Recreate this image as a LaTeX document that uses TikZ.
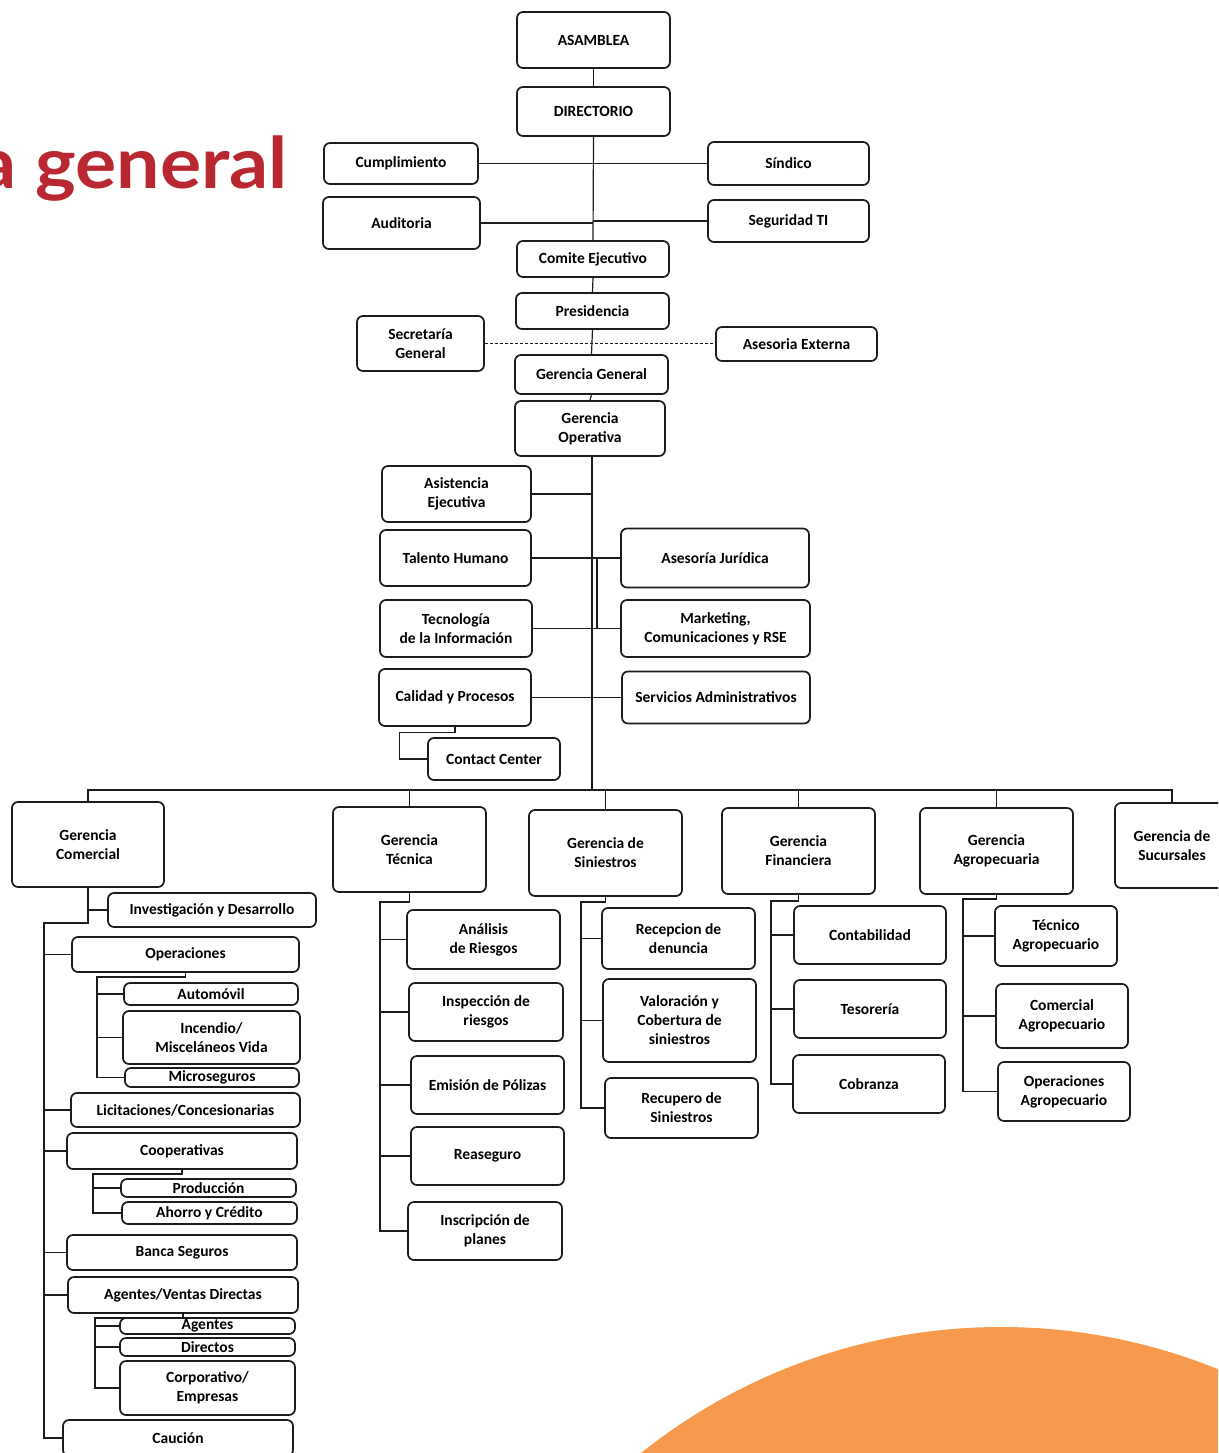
\documentclass[tikz,border=0pt]{standalone}
\usepackage{fontspec}
\setmainfont{Carlito}
\newfontfamily\titlefont{Lato}
\definecolor{ink}{RGB}{28,28,28}
\definecolor{rojo}{RGB}{185,40,48}
\definecolor{naranja}{RGB}{247,154,78}
\newcommand{\boxfont}{\bfseries\fontsize{15.5}{19}\selectfont}
\tikzset{
  box/.style 2 args={draw=ink, line width=1.7pt, rounded corners=6pt, fill=white,
    minimum width=#1pt, minimum height=#2pt, align=center, font=\boxfont, inner sep=0.5pt},
  link/.style={draw=ink, line width=1.2pt},
}

\begin{document}
\begin{tikzpicture}[x=1pt, y=-1pt]
\useasboundingbox (0,0) rectangle (1218,1453);
\clip (0,0) rectangle (1218,1453);
\fill[naranja] (1001,1904) circle[radius=577pt];
\node[anchor=base east, text=rojo, font=\titlefont\bfseries\fontsize{71}{80}\selectfont, inner sep=0pt] (titulo) at (288,188) {\scalebox{1.086}[1]{a general}};

% top of the chart
\node[box={153}{56}] (asamblea) at (593.5,40) {ASAMBLEA};
\node[box={153}{49}] (directorio) at (593.5,111.5) {DIRECTORIO};
\node[box={154}{41}] (cumpl) at (401,163.5) {Cumplimiento};
\node[box={161}{43}] (sindico) at (788.5,163.5) {Síndico};
\node[box={157}{52}] (auditoria) at (401.5,223) {Auditoria};
\node[box={161}{42}] (segti) at (788.5,221) {Seguridad TI};
\node[box={152}{36}] (comite) at (593,259) {Comite Ejecutivo};
\node[box={153}{36}] (presid) at (592.5,311) {Presidencia};
\node[box={127}{55}] (secret) at (420.5,343.5) {Secretaría\\General};
\node[box={161}{34}] (asext) at (796.5,344) {Asesoria Externa};
\node[box={153}{39}] (gergen) at (591.5,374.5) {Gerencia General};
\node[box={150}{55}] (gerop) at (590,428.5) {Gerencia\\Operativa};

% staff of Gerencia Operativa
\node[box={149}{56}] (asist) at (456.5,494) {Asistencia\\Ejecutiva};
\node[box={151}{56}] (talento) at (455.5,558) {Talento Humano};
\node[box={188}{59}] (asjur) at (715,558) {Asesoría Jurídica};
\node[box={152}{57}] (tecno) at (456,628.5) {Tecnología\\de la Información};
\node[box={189}{57}] (mkt) at (715.5,628.5) {Marketing,\\Comunicaciones y RSE};
\node[box={152}{57}] (calidad) at (455,697.5) {Calidad y Procesos};
\node[box={188}{52}] (servadm) at (716,697.5) {Servicios Administrativos};
\node[box={132}{42}] (contact) at (494,759) {Contact Center};

% gerencias
\node[box={152}{85}] (gcom) at (88,844.5) {Gerencia\\Comercial};
\node[box={153}{85}] (gtec) at (409.5,849.5) {Gerencia\\Técnica};
\node[box={153}{86}] (gsin) at (605.5,853) {Gerencia de\\Siniestros};
\node[box={153}{86}] (gfin) at (798.5,851) {Gerencia\\Financiera};
\node[box={153}{86}] (gagro) at (996.5,851) {Gerencia\\Agropecuaria};
\node[box={114}{85}] (gsuc) at (1172,845.5) {Gerencia de\\Sucursales};

% Gerencia Tecnica
\node[box={153}{59}] (anal) at (483.5,939.5) {Análisis\\de Riesgos};
\node[box={154}{58}] (insp) at (486,1012) {Inspección de\\riesgos};
\node[box={153}{58}] (emis) at (487.5,1085) {Emisión de Pólizas};
\node[box={153}{58}] (reas) at (487.5,1156) {Reaseguro};
\node[box={154}{58}] (inscr) at (485,1231) {Inscripción de\\planes};

% Gerencia de Siniestros
\node[box={153}{61}] (recep) at (678.5,938.5) {Recepcion de\\denuncia};
\node[box={153}{83}] (valor) at (679.5,1020.5) {Valoración y\\Cobertura de\\siniestros};
\node[box={153}{60}] (recup) at (681.5,1108) {Recupero de\\Siniestros};

% Gerencia Financiera
\node[box={152}{58}] (conta) at (870,935) {Contabilidad};
\node[box={152}{58}] (teso) at (870,1009) {Tesorería};
\node[box={152}{58}] (cobr) at (869,1084) {Cobranza};

% Gerencia Agropecuaria
\node[box={122}{60}] (tecag) at (1056,936) {Técnico\\Agropecuario};
\node[box={132}{64}] (comag) at (1062,1016) {Comercial\\Agropecuario};
\node[box={132}{59}] (opag) at (1064,1091.5) {Operaciones\\Agropecuario};

% Gerencia Comercial
\node[box={208}{34}] (invest) at (212,910) {Investigación y Desarrollo};
\node[box={227}{35}] (oper) at (185.5,954.5) {Operaciones};
\node[box={174}{22}] (auto) at (211,994) {Automóvil};
\node[box={177}{53}] (incen) at (211.5,1037.5) {Incendio/\\Misceláneos Vida};
\node[box={174}{19}] (micro) at (212,1077.5) {Microseguros};
\node[box={229}{34}] (licit) at (185.5,1110) {Licitaciones/Concesionarias};
\node[box={230}{36}] (coop) at (182,1151) {Cooperativas};
\node[box={175}{18}] (prod) at (208.5,1188) {Producción};
\node[box={175}{22}] (ahorro) at (209.5,1213) {Ahorro y Crédito};
\node[box={230}{35}] (banca) at (182,1252.5) {Banca Seguros};
\node[box={230}{36}] (agvd) at (183,1295) {Agentes/Ventas Directas};
\node[box={175}{16}] (agentes) at (207.5,1326) {Agentes};
\node[box={175}{18}] (directos) at (207.5,1347) {Directos};
\node[box={175}{54}] (corpo) at (207.5,1388) {Corporativo/\\Empresas};
\node[box={230}{36}] (caucion) at (178,1438) {Caución};

% connectors
\coordinate (spine) at (593,0);
\coordinate (ospine) at (592,0);
\coordinate (rspine) at (597,0);
\coordinate (bus) at (0,790);
\draw[link] (asamblea.south) -- (directorio.north);
\draw[link] (directorio.south) -- (comite.north);
\draw[link] (comite.south) -- (presid.north);
\draw[link] (presid.south) -- (gergen.north);
\draw[link] (gergen.south) -- (gerop.north);
\foreach \n in {cumpl,auditoria} \draw[link] (\n.east) -- (\n.east -| spine);
\foreach \n in {sindico,segti} \draw[link] (\n.west) -- (\n.west -| spine);
\draw[link, line width=1pt, dash pattern=on 3pt off 2pt] (secret.east) -- (secret.east -| asext.west);

\draw[link] (gerop.south -| ospine) -- (ospine |- bus);
\draw[link] (asist.east) -- (asist.east -| ospine);
\draw[link] (talento.east) -- (talento.east -| asjur.west);
\draw[link] (tecno.east) -- (tecno.east -| mkt.west);
\draw[link] (calidad.east) -- (calidad.east -| servadm.west);
\draw[link] (talento.east -| rspine) -- (tecno.east -| rspine);
\draw[link] (calidad.south) -- ++(0,6) -| ([xshift=-28pt]contact.west) -- (contact.west);

\draw[link] (gcom.north) -- (gcom.north |- bus) -- (gsuc.north |- bus) -- (gsuc.north);
\foreach \n in {gtec,gsin,gfin,gagro} \draw[link] (\n.north) -- (\n.north |- bus);

\coordinate (tcol) at (380,902);
\draw[link] (gtec.south) |- (tcol) -- (tcol |- inscr.west) -- (inscr.west);
\foreach \n in {anal,insp,emis,reas} \draw[link] (\n.west) -- (\n.west -| tcol);
\coordinate (scol) at (581,902);
\draw[link] (gsin.south) |- (scol) -- (scol |- recup.west) -- (recup.west);
\foreach \n in {recep,valor} \draw[link] (\n.west) -- (\n.west -| scol);
\coordinate (fcol) at (771,901);
\draw[link] (gfin.south) |- (fcol) -- (fcol |- cobr.west) -- (cobr.west);
\foreach \n in {conta,teso} \draw[link] (\n.west) -- (\n.west -| fcol);
\coordinate (acol) at (963,899);
\draw[link] (gagro.south) |- (acol) -- (acol |- opag.west) -- (opag.west);
\foreach \n in {tecag,comag} \draw[link] (\n.west) -- (\n.west -| acol);

\coordinate (ccol) at (44,923);
\draw[link] (gcom.south) -- (gcom.south |- ccol) -- (ccol) -- (ccol |- caucion.west) -- (caucion.west);
\draw[link] (invest.west) -- (invest.west -| gcom.south);
\foreach \n in {oper,licit,coop,banca,agvd} \draw[link] (\n.west) -- (\n.west -| ccol);
\coordinate (ocol) at (97,977);
\draw[link] (oper.south) |- (ocol) -- (ocol |- micro.west) -- (micro.west);
\foreach \n in {auto,incen} \draw[link] (\n.west) -- (\n.west -| ocol);
\coordinate (kcol) at (93,1174);
\draw[link] (coop.south) |- (kcol) -- (kcol |- ahorro.west) -- (ahorro.west);
\draw[link] (prod.west) -- (prod.west -| kcol);
\coordinate (gcol) at (95,1318);
\draw[link] (agvd.south) |- (gcol) -- (gcol |- corpo.west) -- (corpo.west);
\foreach \n in {agentes,directos} \draw[link] (\n.west) -- (\n.west -| gcol);
\end{tikzpicture}
\end{document}
